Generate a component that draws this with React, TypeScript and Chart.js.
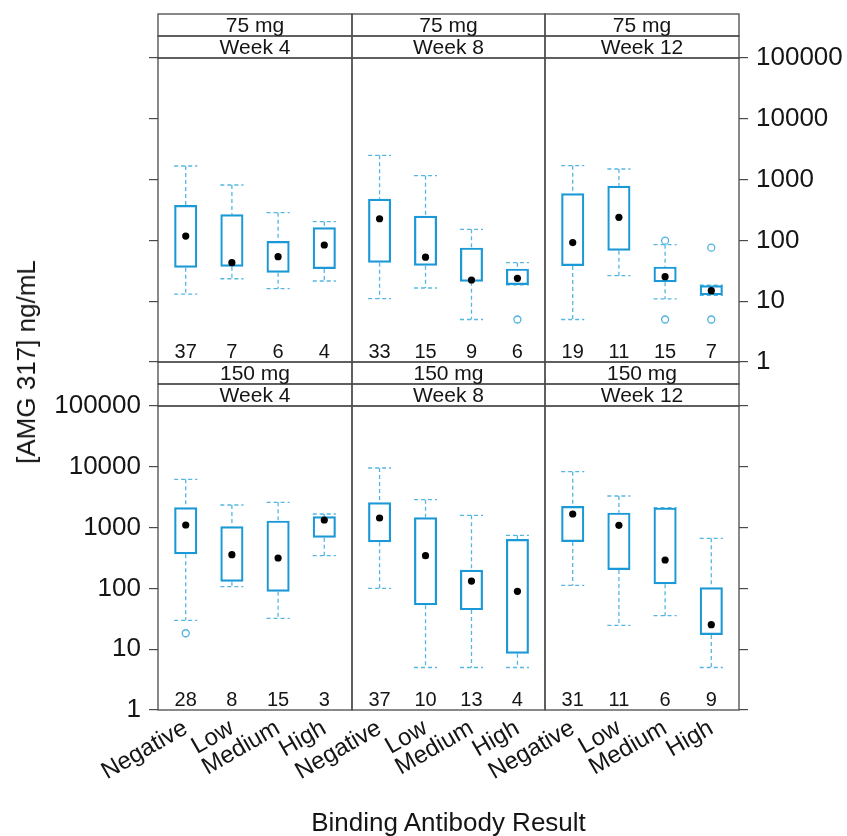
import { useEffect, useRef } from 'react';
import { Chart, registerables } from 'chart.js';

Chart.register(...registerables);

// ---------- data ----------
const categories = ['Negative', 'Low', 'Medium', 'High'];
const doseLabels = ['75 mg', '150 mg'];
const weekLabels = ['Week 4', 'Week 8', 'Week 12'];
const yTicks = [1, 10, 100, 1000, 10000, 100000];

// panel order: 75 mg W4, W8, W12, 150 mg W4, W8, W12
const lowWhisker = [
  [13.1, 23.4, 16.1, 21.5],
  [11, 16.5, 5, 18.5],
  [5, 26.3, 10.9, 12.5],
  [29.9, 107, 32.2, 345],
  [100, 5, 5, 5],
  [112, 24.7, 35.6, 5],
];
const lowerQuartile = [
  [35.5, 37, 29.4, 33.9],
  [43, 38.4, 20.9, 18.5],
  [38, 67.8, 20.5, 12.5],
  [364, 129, 88, 683],
  [573, 52.7, 44, 8.4],
  [580, 201, 117, 17.1],
];
const medians = [
  [118, 43, 54, 84],
  [227, 53, 22.3, 23.8],
  [92, 240, 25.3, 14.9],
  [1103, 359, 316, 1334],
  [1438, 345, 132, 89.6],
  [1674, 1089, 293, 25.3],
];
const upperQuartile = [
  [382, 269, 98, 164],
  [485, 255, 76, 34.3],
  [594, 794, 37, 18.3],
  [2155, 1050, 1300, 1531],
  [2606, 1477, 203, 650],
  [2265, 1762, 2127, 104],
];
const highWhisker = [
  [1675, 815, 286, 203],
  [2508, 1161, 152, 43],
  [1694, 1493, 85, 18.3],
  [6226, 2353, 2606, 1674],
  [9550, 2877, 1593, 747],
  [8318, 3311, 2127, 666],
];
const counts = [
  [37, 7, 6, 4],
  [33, 15, 9, 6],
  [19, 11, 15, 7],
  [28, 8, 15, 3],
  [37, 10, 13, 4],
  [31, 11, 6, 9],
];
// [category (1-based), value]
const outliers: number[][][] = [
  [],
  [[4, 5]],
  [[3, 99], [3, 5], [4, 76], [4, 5]],
  [[1, 18.3]],
  [],
  [],
];

// ---------- layout / style ----------
const W = 847;
const H = 836;
const COL_EDGES = [158, 352, 545, 739];
const ROW_TOPS = [58, 406];
const ROW_BOTTOMS = [362, 710];
const STRIP_H = 22;
const LEFT_AXIS_W = 150;
const RIGHT_AXIS_W = 108;
const X_AXIS_H = 100;
const FONT = '"Liberation Sans", Arial, Helvetica, sans-serif';
const BOX = '#1a99d6';
const WHISK = '#56b6e2';
const OUT = '#4db2e0';
const FRAME = '#4a4a4a';
const TEXT = '#151515';

const framePlugin = {
  id: 'panelFrame',
  afterDraw(chart: any, _args: any, opts: any) {
    const p = opts.panel as number;
    const row = p < 3 ? 0 : 1;
    const col = p % 3;
    const { ctx, chartArea } = chart;
    const { left, top, right, bottom } = chartArea;
    ctx.save();
    ctx.strokeStyle = FRAME;
    ctx.lineWidth = 1.3;
    ctx.strokeRect(left, top, right - left, bottom - top);
    ctx.strokeRect(left, top - 2 * STRIP_H, right - left, STRIP_H);
    ctx.strokeRect(left, top - STRIP_H, right - left, STRIP_H);
    ctx.fillStyle = TEXT;
    ctx.textAlign = 'center';
    ctx.textBaseline = 'middle';
    ctx.font = `21px ${FONT}`;
    const cx = (left + right) / 2;
    ctx.fillText(doseLabels[row], cx, top - 1.5 * STRIP_H + 1);
    ctx.fillText(weekLabels[col], cx, top - 0.5 * STRIP_H + 1);
    ctx.font = `20px ${FONT}`;
    const xs = chart.scales.x;
    counts[p].forEach((n, i) => {
      ctx.fillText(String(n), xs.getPixelForValue(i + 1), bottom - 10);
    });
    ctx.restore();
  },
};

function whiskerPoints(p: number) {
  const pts: { x: number; y: number | null }[] = [];
  categories.forEach((_, i) => {
    const x = i + 1;
    const hi = highWhisker[p][i];
    const lo = lowWhisker[p][i];
    pts.push(
      { x: x - 0.25, y: hi }, { x: x + 0.25, y: hi }, { x, y: null },
      { x, y: hi }, { x, y: upperQuartile[p][i] }, { x, y: null },
      { x, y: lowerQuartile[p][i] }, { x, y: lo }, { x, y: null },
      { x: x - 0.25, y: lo }, { x: x + 0.25, y: lo }, { x, y: null },
    );
  });
  return pts;
}

function yAxis(position: 'left' | 'right', display: boolean, showLabels: boolean) {
  const w = display ? (position === 'left' ? LEFT_AXIS_W : RIGHT_AXIS_W) : 0;
  return {
    type: 'logarithmic',
    position,
    min: 1,
    max: 100000,
    display,
    afterBuildTicks: (s: any) => {
      s.ticks = yTicks.map((v) => ({ value: v }));
    },
    afterFit: (s: any) => {
      s.width = w;
      s.paddingTop = 0;
      s.paddingBottom = 0;
    },
    border: { display: false },
    grid: {
      display: true,
      drawOnChartArea: false,
      drawTicks: true,
      tickLength: 9,
      color: FRAME,
      lineWidth: 1.2,
    },
    ticks: {
      display: showLabels,
      autoSkip: false,
      padding: 8,
      color: TEXT,
      font: { family: FONT, size: 26 },
      callback: (v: any) => String(v),
    },
  };
}

function Panel({ p }: { p: number }) {
  const ref = useRef<HTMLCanvasElement | null>(null);
  useEffect(() => {
    if (!ref.current) return;
    const row = p < 3 ? 0 : 1;
    const col = p % 3;
    const showX = row === 1;
    const scales: any = {
      x: {
        type: 'linear',
        min: 0.4,
        max: 4.6,
        offset: false,
        display: showX,
        afterBuildTicks: (s: any) => {
          s.ticks = categories.map((_, i) => ({ value: i + 1 }));
        },
        afterFit: (s: any) => {
          s.height = showX ? X_AXIS_H : 0;
          s.paddingLeft = 0;
          s.paddingRight = 0;
        },
        border: { display: false },
        grid: { display: false, drawTicks: false, offset: false },
        ticks: {
          autoSkip: false,
          minRotation: 30,
          maxRotation: 30,
          padding: 4,
          color: TEXT,
          font: { family: FONT, size: 24 },
          callback: (v: any) => categories[Math.round(Number(v)) - 1] ?? '',
        },
      },
      y: yAxis('left', col === 0, row === 1),
    };
    if (col === 2) scales.yR = yAxis('right', true, row === 0);

    const padLeft = col === 0 ? COL_EDGES[0] - LEFT_AXIS_W : COL_EDGES[col];
    const padRight = col === 2 ? W - COL_EDGES[3] - RIGHT_AXIS_W : W - COL_EDGES[col + 1];
    const padBottom = showX ? H - ROW_BOTTOMS[1] - X_AXIS_H : H - ROW_BOTTOMS[row];

    const chart = new Chart(ref.current, {
      type: 'bar',
      data: {
        datasets: [
          {
            type: 'line',
            label: 'median',
            order: 0,
            data: medians[p].map((v, i) => ({ x: i + 1, y: v })),
            showLine: false,
            pointRadius: 3.6,
            pointBackgroundColor: '#000',
            pointBorderWidth: 0,
          },
          {
            type: 'line',
            label: 'outliers',
            order: 1,
            data: outliers[p].map(([c, v]) => ({ x: c, y: v })),
            showLine: false,
            pointRadius: 3.5,
            pointBackgroundColor: 'rgba(255,255,255,0)',
            pointBorderColor: OUT,
            pointBorderWidth: 1.3,
          },
          {
            type: 'bar',
            label: 'box',
            order: 2,
            data: categories.map((_, i) => ({
              x: i + 1,
              y: [lowerQuartile[p][i], upperQuartile[p][i]],
            })),
            backgroundColor: 'rgba(255,255,255,0)',
            borderColor: BOX,
            borderWidth: 2.2,
            borderSkipped: false,
            barPercentage: 0.5,
            categoryPercentage: 1,
          },
          {
            type: 'line',
            label: 'whiskers',
            order: 3,
            data: whiskerPoints(p),
            spanGaps: false,
            borderColor: WHISK,
            borderWidth: 1.3,
            borderDash: [4, 3],
            pointRadius: 0,
            tension: 0,
          },
        ] as any,
      },
      options: {
        responsive: false,
        animation: false,
        events: [],
        layout: {
          padding: {
            left: padLeft,
            right: padRight,
            top: ROW_TOPS[row],
            bottom: padBottom,
          },
        },
        plugins: {
          legend: { display: false },
          tooltip: { enabled: false },
          panelFrame: { panel: p },
        } as any,
        scales,
      },
      plugins: [framePlugin],
    });
    return () => chart.destroy();
  }, [p]);
  return (
    <canvas
      ref={ref}
      width={W}
      height={H}
      style={{ position: 'absolute', left: 0, top: 0, width: W, height: H, pointerEvents: 'none' }}
    />
  );
}

export default function App() {
  return (
    <div style={{ position: 'absolute', left: 0, top: 0, width: W, height: H, background: '#fff', overflow: 'hidden' }}>
      {[0, 1, 2, 3, 4, 5].map((p) => (
        <Panel key={p} p={p} />
      ))}
      <div
        style={{
          position: 'absolute',
          left: 26,
          top: 362,
          transform: 'translate(-50%, -50%) rotate(-90deg)',
          whiteSpace: 'nowrap',
          fontFamily: FONT,
          fontSize: 26,
          color: TEXT,
          lineHeight: 1,
        }}
      >
        [AMG 317] ng/mL
      </div>
      <div
        style={{
          position: 'absolute',
          left: 448.5,
          top: 822,
          transform: 'translate(-50%, -50%)',
          whiteSpace: 'nowrap',
          fontFamily: FONT,
          fontSize: 26,
          color: TEXT,
          lineHeight: 1,
        }}
      >
        Binding Antibody Result
      </div>
    </div>
  );
}
